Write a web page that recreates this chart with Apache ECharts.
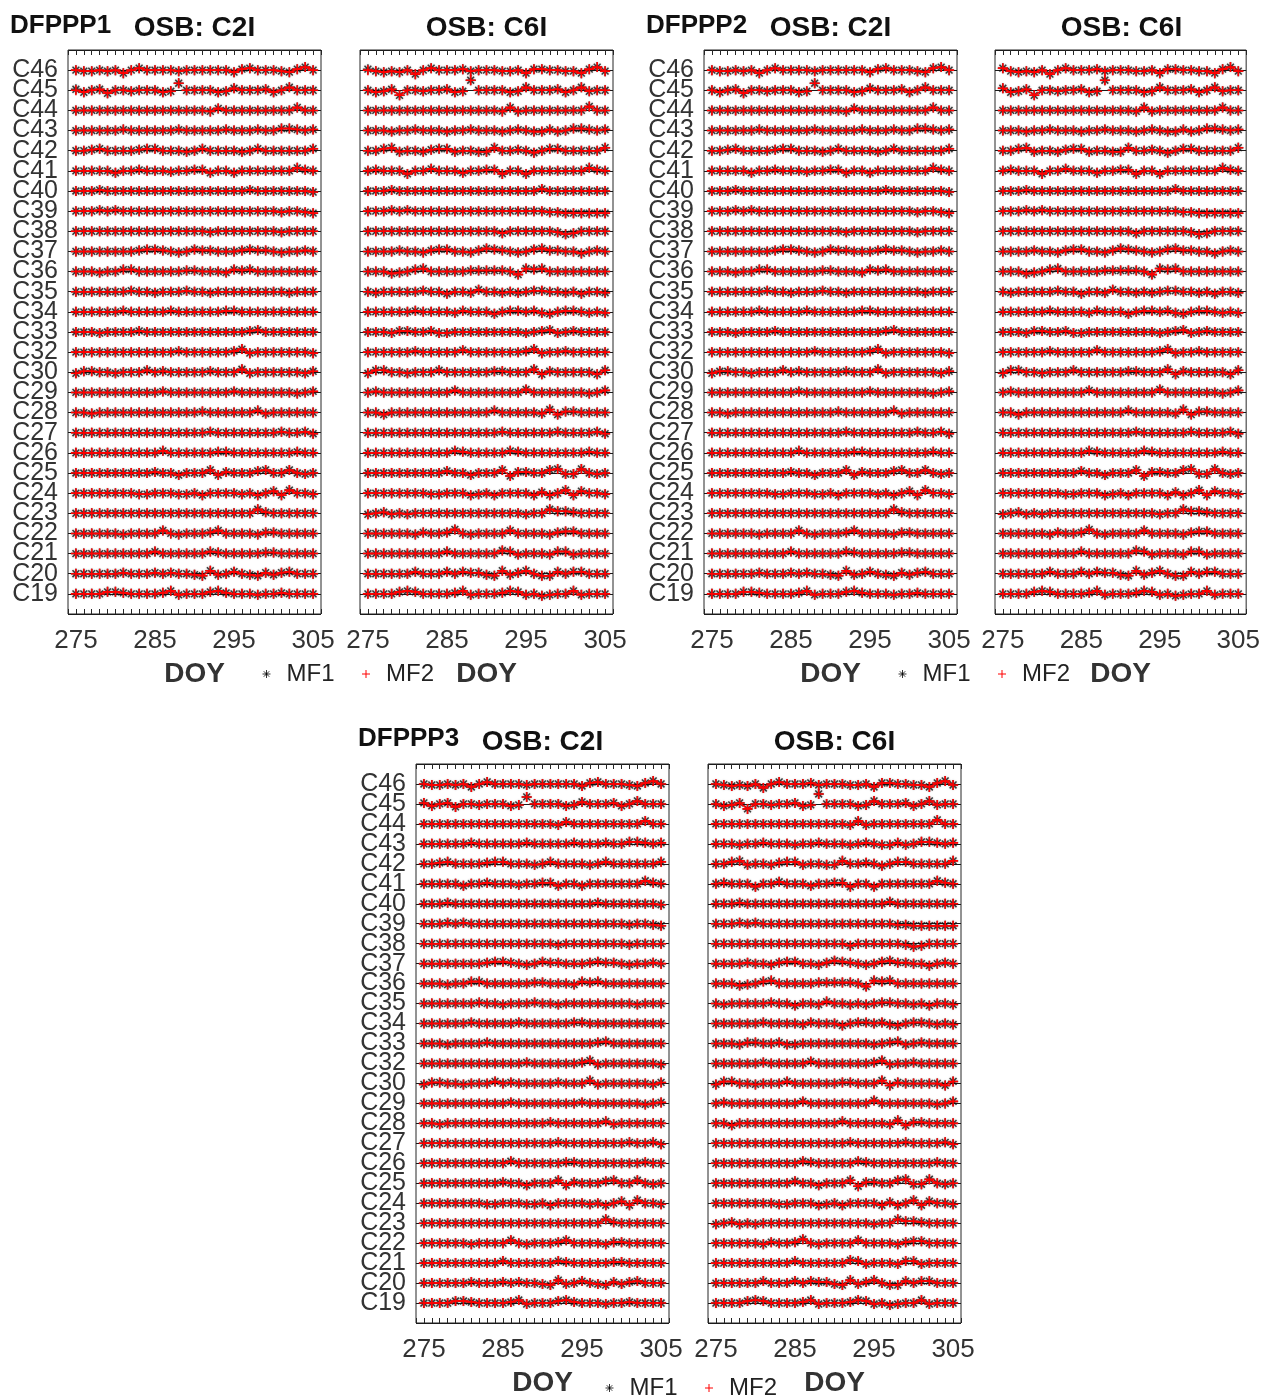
<!DOCTYPE html>
<html><head><meta charset="utf-8">
<script src="https://cdn.jsdelivr.net/npm/echarts@6/dist/echarts.min.js"></script>
<style>html,body{margin:0;padding:0;background:#fff}#chart{width:1263px;height:1398px}</style>
</head><body><div id="chart"></div>
<script>
// ---------------- DATA ----------------
// satellites, top row to bottom row
const SATS = ['C46','C45','C44','C43','C42','C41','C40','C39','C38','C37','C36','C35','C34','C33','C32',
              'C30','C29','C28','C27','C26','C25','C24','C23','C22','C21','C20','C19'];
const DOYS = [275,276,277,278,279,280,281,282,283,284,285,286,287,288,289,290,291,292,293,294,295,296,297,298,299,300,301,302,303,304,305];
const X_TICK_LABELS = [275,285,295,305];
const PRODUCTS = ['DFPPP1','DFPPP2','DFPPP3'];
const SIGNALS = ['OSB: C2I','OSB: C6I'];
const SERIES_NAMES = ['MF1','MF2'];
// value offset (in row units) read for each DOY, one character per day (275..305).
// '5' = on the row line; each step = 0.05; uppercase = point not joined by the line
const LEVEL = {'0':-0.25,'1':-0.2,'2':-0.15,'3':-0.1,'4':-0.05,'5':0,'6':0.05,'7':0.1,'8':0.15,'9':0.2,
               'a':0.25,'b':0.3,'c':0.35,'d':0.4,'e':0.45,'f':0.5};

const DFPPP1_C2I_MF2 = [
"5445452575 5554555555 3675554368 5","5356255455 534C555534 7555635855 5","5555555555 5555555475 5555555585 5",
"5555556555 5556555556 5556557765 6","5567555567 7555457555 5457555555 7","5555535565 5545566355 3555555586 5",
"5556555555 5555555555 5565555555 4","5556565555 5555555555 5555554554 3","5555555555 5555555455 5555554555 5",
"5555555567 7654576655 5676654556 5","5554557755 5555665554 7675555555 5","5555555655 4555655455 5555555455 5",
"5555556555 5565555556 6555555555 5","5554555565 5555555555 5567555555 5","5555555555 5556555555 6845555555 4",
"4665545557 5655555655 5845555554 6","5555555555 5655555555 6555555545 6","5545555555 5555556555 5557455555 5",
"5555555555 5555555655 5555556556 4","5555555555 5755555566 5555555565 5","5555555555 6553555836 5557855854 5",
"5555555544 5554453555 5453573855 4","5555555555 5555555555 5559655555 5","5555554555 5854555685 5554665555 5",
"5555555555 7555555765 5555665555 5","5555556555 6565543845 7543646755 5","5555776555 5684555786 5554556555 5"];
const DFPPP1_C2I_MF1 = [
"5445452575 5554555555 3675554368 5","6356255455 534C555534 7555635855 5","5555555555 5555555475 5555555585 5",
"5555556555 5556555556 5556557765 6","5567555567 7555457555 5457555555 7","5555535565 5545566355 3555555586 5",
"5556555555 5555555555 5565555555 4","5556565555 5555555555 5555554554 3","5555555555 5555555455 5555554555 5",
"5555555567 7654576655 5676654556 5","5554557755 5555665554 7675555555 5","5555555655 4555655455 5555555455 5",
"5555556555 5565555556 6555555555 5","5554555565 5555555555 5567555555 5","5555555555 5556555555 6845555555 4",
"4665545557 5655555655 5845555554 6","5555555555 5655555555 6555555545 6","5545555555 5555556555 5557455555 5",
"5555555555 5555555655 5555556556 4","5555555555 5755555566 5555555565 5","5555555555 6553555836 5557855854 5",
"5555555544 5554453555 5453573855 4","5555555555 5555555555 5559655555 5","5555554555 5854555685 5554665555 5",
"5555555555 7555555765 5555665555 5","5555556555 6565543845 7543646755 5","5555776555 5684555786 5554556555 5"];
const DFPPP1_C6I_MF2 = [
"5434351575 5564555445 2665544268 4","5346055455 634F555534 8555635845 5","5555555555 5555555484 5555555595 5",
"5554556555 4556555456 5446457765 6","5578455467 7455448556 5357755555 8","5655525575 5535566255 2555555586 5",
"5556555555 5555555555 5575555555 5","5556565555 5555555555 5554433333 3","5555555555 5555555355 5555423555 5",
"5555655467 7554687654 5786655356 5","5553457855 5556666652 8785555555 5","5455555655 3554755454 5665545355 4",
"5555556555 5465553566 5643566545 4","5554665564 4555555555 4567456555 5","5555556555 5575555555 6845565555 5",
"4775545557 5555556655 5836555553 7","5655555555 5755555555 8555555545 7","5535555555 5555557555 5548366555 5",
"5555555555 5555555655 5555655556 4","5555555555 5765555576 5555555565 5","5555555555 7553555826 6558944954 5",
"5555555544 5553453555 5363583755 4","4564545555 5555555555 4559776555 5","5555554655 6954555585 5554677555 5",
"5555555555 7555555874 5554774555 5","5555557555 7576643846 8533757755 5","5555787555 5684555687 4534558455 5"];
const DFPPP1_C6I_MF1 = [
"6434351575 5564555445 2665544268 4","5346055455 634F555534 8555635845 5","5555555555 5555555484 5555555595 5",
"5554556555 4556555456 5446457765 6","5578455467 7455448556 5357755555 8","5655525575 5535566255 2555555586 5",
"5556555555 5555555555 5575555555 5","5556565555 5555555555 5554433333 3","5555555555 5555555355 5555423555 5",
"5555655467 7554687654 5786655356 5","5553457855 5556666652 8785555555 5","5455555655 3554755454 5665545355 4",
"5555556555 5465553566 5643566545 4","5554665564 4555555555 4567456555 5","5555556555 5575555555 6845565555 5",
"4775545557 5555556655 5836555553 7","5655555555 5755555555 8555555545 7","5535555555 5555557555 5548366555 5",
"5555555555 5555555655 5555655556 4","5555555555 5765555576 5555555565 5","5555555555 7553555826 6558944954 5",
"5555555544 5553453555 5363583755 4","4564545555 5555555555 4559776555 5","5555554655 6954555585 5554677555 5",
"5555555555 7555555874 5554774555 5","5555557555 7576643846 8533757755 5","5555787555 5684555687 4534558455 5"];
const DFPPP2_C2I_MF2 = [
"5445452575 5554555555 3675554378 5","5356255455 534C555534 7555635855 5","5555555555 5555555475 5555555585 5",
"5555556555 5556555556 5556557765 6","5567555567 7555457555 5457555555 7","5555535565 5545566355 3555555586 5",
"5556555555 5555555555 5565555555 4","5556565555 5555555555 5555554554 3","5555555555 5555555455 5555554555 5",
"5555555567 7654576655 5676654556 5","5554557755 5555665554 7675555555 5","5555555655 4555655455 5555555455 5",
"5555556555 5565555556 6555555555 5","5554555565 5555555555 5567555555 5","5555555555 5556555555 6845555555 4",
"4665545557 5655555655 5845555554 6","5555555555 5655555555 6555555545 6","5545555555 5555556555 5557455555 5",
"5555555555 5555555655 5555556556 4","5555555555 5755555566 5555555565 5","5555555555 6553555836 5557855854 5",
"5555555544 5554453555 5453573855 4","5555555555 5555555555 5559655555 5","5555554555 5854555685 5554665555 5",
"5555555555 7555555765 5555665555 5","5555556555 6565543845 7543646755 5","5555776555 5684555786 5554556555 5"];
const DFPPP2_C2I_MF1 = [
"5445452575 5554555555 3675554378 5","5356255455 534C555534 7555635855 5","5555555555 5555555475 5555555585 5",
"5555556555 5556555556 5556557765 6","5567555567 7555457555 5457555555 7","5555535565 5545566355 3555555586 5",
"5556555555 5555555555 5565555555 4","5556565555 5555555555 5555554554 3","5555555555 5555555455 5555554555 5",
"5555555567 7654576655 5676654556 5","5554557755 5555665554 7675555555 5","5555555655 4555655455 5555555455 5",
"5555556555 5565555556 6555555555 5","5554555565 5555555555 5567555555 5","5555555555 5556555555 6845555555 4",
"4665545557 5655555655 5845555554 6","5555555555 5655555555 6555555545 6","5545555555 5555556555 5557455555 5",
"5555555555 5555555655 5555556556 4","5555555555 5755555566 5555555565 5","5555555555 6553555836 5557855854 5",
"5555555544 5554453555 5453573855 4","5555555555 5555555555 5559655555 5","5555554555 5854555685 5554665555 5",
"5555555555 7555555765 5555665555 5","5555556555 6565543845 7543646755 5","5555776555 5684555786 5554556555 5"];
const DFPPP2_C6I_MF2 = [
"7434351575 5564555445 2665544268 4","7346055455 634F555534 8555635845 5","5555555555 5555555484 5555555585 5",
"5554556555 4556555456 5446457765 6","5578455467 7455448556 5357755555 8","5655525575 5535566255 2555555586 5",
"5556555555 5555555555 5575555555 5","5556565555 5555555555 5554433333 3","5555555555 5555555355 5555423555 5",
"5555655467 7554687654 5786655356 5","5553457855 5556666652 8785555555 5","5455555655 3554755454 5665545355 4",
"5555556555 5465553566 5643566545 4","5554665564 4555555555 4567456555 5","5555556555 5575555555 6845565555 5",
"4775545557 5555556655 5836555553 7","5655555555 5755555555 8555555545 7","5535555555 5555557555 5548366555 5",
"5555555555 5555555655 5555655556 4","5555555555 5765555576 5555555565 5","5555555555 7553555826 6558944954 5",
"5555555544 5553453555 5363583755 4","4564545555 5555555555 4559776555 5","5555554655 6954555585 5554677555 5",
"5555555555 7555555874 5554774555 5","5555557555 7576643846 8533757755 5","5555787555 5684555687 4534558455 5"];
const DFPPP2_C6I_MF1 = [
"7434351575 5564555445 2665544268 4","7346055455 634F555534 8555635845 5","5555555555 5555555484 5555555585 5",
"5554556555 4556555456 5446457765 6","5578455467 7455448556 5357755555 8","5655525575 5535566255 2555555586 5",
"5556555555 5555555555 5575555555 5","5556565555 5555555555 5554433333 3","5555555555 5555555355 5555423555 5",
"5555655467 7554687654 5786655356 5","5553457855 5556666652 8785555555 5","5455555655 3554755454 5665545355 4",
"5555556555 5465553566 5643566545 4","5554665564 4555555555 4567456555 5","5555556555 5575555555 6845565555 5",
"4775545557 5555556655 5836555553 7","5655555555 5755555555 8555555545 7","5535555555 5555557555 5548366555 5",
"5555555555 5555555655 5555655556 4","5555555555 5765555576 5555555565 5","5555555555 7553555826 6558944954 5",
"5555555544 5553453555 5363583755 4","4564545555 5555555555 4559776555 5","5555554655 6954555585 5554677555 5",
"5555555555 7555555874 5554774555 5","5555557555 7576643846 8533757755 5","5555787555 5684555687 4534558455 5"];
const DFPPP3_C2I_MF2 = [
"5445452575 5554555555 3675554368 5","6356255455 534C555534 7555635855 5","5555555555 5555555475 5555555585 5",
"5555556555 5556555556 5556557765 6","5567555567 7555457555 5457555555 7","5555535565 5545566355 3555555586 5",
"5556555555 5555555555 5565555555 4","5556565555 5555555555 5555554554 3","5555555555 5555555455 5555554555 5",
"5555555567 7654576655 5676654556 5","5554557755 5555665554 7675555555 5","5555555655 4555655455 5555555455 5",
"5555556555 5565555556 6555555555 5","5554555565 5555555555 5567555555 5","5555555555 5556555555 6845555555 4",
"4665545557 5655555655 5845555554 6","5555555555 5655555555 6555555545 6","5545555555 5555556555 5557455555 5",
"5555555555 5555555655 5555556556 4","5555555555 5755555566 5555555565 5","5555555555 6553555836 5557855854 5",
"5555555544 5554453555 5453573855 4","5555555555 5555555555 5559655555 5","5555554555 5854555685 5554665555 5",
"5555555555 7555555765 5555665555 5","5555556555 6565543845 7543646755 5","5555776555 5684555786 5554556555 5"];
const DFPPP3_C2I_MF1 = [
"5445452575 5554555555 3675554368 5","6356255455 534C555534 7555635855 5","5555555555 5555555475 5555555585 5",
"5555556555 5556555556 5556557765 6","5567555567 7555457555 5457555555 7","5555535565 5545566355 3555555586 5",
"5556555555 5555555555 5565555555 4","5556565555 5555555555 5555554554 3","5555555555 5555555455 5555554555 5",
"5555555567 7654576655 5676654556 5","5554557755 5555665554 7675555555 5","5555555655 4555655455 5555555455 5",
"5555556555 5565555556 6555555555 5","5554555565 5555555555 5567555555 5","5555555555 5556555555 6845555555 4",
"4665545557 5655555655 5845555554 6","5555555555 5655555555 6555555545 6","5545555555 5555556555 5557455555 5",
"5555555555 5555555655 5555556556 4","5555555555 5755555566 5555555565 5","5555555555 6553555836 5557855854 5",
"5555555544 5554453555 5453573855 4","5555555555 5555555555 5559655555 5","5555554555 5854555685 5554665555 5",
"5555555555 7555555765 5555665555 5","5555556555 6565543845 7543646755 5","5555776555 5684555786 5554556555 5"];
const DFPPP3_C6I_MF2 = [
"5434351575 5564555445 2665544268 4","5346055455 634F555534 8555635845 5","5555555555 5555555484 5555555595 5",
"5554556555 4556555456 5446457765 6","5578455467 7455448556 5357755555 8","5655525575 5535566255 2555555586 5",
"5556555555 5555555555 5575555555 5","5556565555 5555555555 5554433333 3","5555555555 5555555355 5555423555 5",
"5555655467 7554687654 5786655356 5","5553457855 5556666652 8785555555 5","5455555655 3554755454 5665545355 4",
"5555556555 5465553566 5643566545 4","5554665564 4555555555 4567456555 5","5555556555 5575555555 6845565555 5",
"4775545557 5555556655 5836555553 7","5655555555 5755555555 8555555545 7","5535555555 5555557555 5548366555 5",
"5555555555 5555555655 5555655556 4","5555555555 5765555576 5555555565 5","5555555555 7553555826 6558944954 5",
"5555555544 5553453555 5363583755 4","4564545555 5555555555 4559776555 5","5555554655 6954555585 5554677555 5",
"5555555555 7555555874 5554774555 5","5555557555 7576643846 8533757755 5","5555787555 5684555687 4534558455 5"];
const DFPPP3_C6I_MF1 = [
"5434351575 5564555445 2665544268 4","5346055455 634F555534 8555635845 5","5555555555 5555555484 5555555595 5",
"5554556555 4556555456 5446457765 6","5578455467 7455448556 5357755555 8","5655525575 5535566255 2555555586 5",
"5556555555 5555555555 5575555555 5","5556565555 5555555555 5554433333 3","5555555555 5555555355 5555423555 5",
"5555655467 7554687654 5786655356 5","5553457855 5556666652 8785555555 5","5455555655 3554755454 5665545355 4",
"5555556555 5465553566 5643566545 4","5554665564 4555555555 4567456555 5","5555556555 5575555555 6845565555 5",
"4775545557 5555556655 5836555553 7","5655555555 5755555555 8555555545 7","5535555555 5555557555 5548366555 5",
"5555555555 5555555655 5555655556 4","5555555555 5765555576 5555555565 5","5555555555 7553555826 6558944954 5",
"5555555544 5553453555 5363583755 4","4564545555 5555555555 4559776555 5","5555554655 6954555585 5554677555 5",
"5555555555 7555555874 5554774555 5","5555557555 7576643846 8533757755 5","5555787555 5684555687 4534558455 5"];

// ---------------- LAYOUT / STYLE ----------------
const FONT = 'Liberation Sans, Arial, Helvetica, sans-serif';
const STAR = 'path://M0 5L10 5M5 0L5 10M1.6 1.6L8.4 8.4M1.6 8.4L8.4 1.6';
const PLUS = 'path://M0 5L10 5M5 0L5 10';
const GW = 253;
const PANELS = [
  {prod:0, sig:0, left:68,  top:50,  h:564, mf1:DFPPP1_C2I_MF1, mf2:DFPPP1_C2I_MF2},
  {prod:0, sig:1, left:360, top:50,  h:564, mf1:DFPPP1_C6I_MF1, mf2:DFPPP1_C6I_MF2},
  {prod:1, sig:0, left:704, top:50,  h:564, mf1:DFPPP2_C2I_MF1, mf2:DFPPP2_C2I_MF2},
  {prod:1, sig:1, left:995, top:50,  h:564, mf1:DFPPP2_C6I_MF1, mf2:DFPPP2_C6I_MF2},
  {prod:2, sig:0, left:416, top:764, h:566, mf1:DFPPP3_C2I_MF1, mf2:DFPPP3_C2I_MF2},
  {prod:2, sig:1, left:708, top:764, h:566, mf1:DFPPP3_C6I_MF1, mf2:DFPPP3_C6I_MF2}
];
const PROD_LABEL_POS = [{x:10,y:26},{x:646,y:26},{x:358,y:739}];
const LEGEND_POS = [{left:255,top:657},{left:891,top:657},{left:598,top:1371}];

const clean = s => s.replace(/\s+/g,'');
const grid=[], xAxis=[], yAxis=[], series=[], graphic=[], legend=[];

PANELS.forEach((p,k)=>{
  grid.push({left:p.left, top:p.top, width:GW, height:p.h, show:true, borderColor:'#262626', borderWidth:1, backgroundColor:'transparent'});
  xAxis.push({gridIndex:k, type:'value', min:274, max:306, interval:1, position:'bottom',
    axisLine:{show:false}, splitLine:{show:false},
    axisTick:{show:true, inside:true, length:5, lineStyle:{color:'#262626', width:1}},
    axisLabel:{fontSize:26, color:'#333', margin:14, fontFamily:FONT, showMinLabel:true, showMaxLabel:true,
      formatter: v => X_TICK_LABELS.indexOf(v) >= 0 ? String(v) : ''},
    name:'DOY', nameLocation:'middle', nameGap:46,
    nameTextStyle:{fontSize:28, fontWeight:'bold', color:'#333', fontFamily:FONT}});
  xAxis.push({gridIndex:k, type:'value', min:274, max:306, interval:1, position:'top',
    axisLine:{show:false}, splitLine:{show:false}, axisLabel:{show:false},
    axisTick:{show:true, inside:true, length:5, lineStyle:{color:'#262626', width:1}}});
  yAxis.push({gridIndex:k, type:'value', min:0, max:28, interval:1,
    axisLine:{show:false}, axisTick:{show:false},
    splitLine:{show:true, lineStyle:{color:'#1a1a1a', width:1}},
    axisLabel:{show:p.sig===0, fontSize:25, color:'#333', margin:10, fontFamily:FONT, showMinLabel:true, showMaxLabel:true,
      formatter: v => (v>=1 && v<=27) ? SATS[27-v] : ''}});

  // MF1 : black asterisks
  const d1 = [];
  p.mf1.forEach((row,r)=>{
    const s = clean(row), base = 27 - r;
    for (let j=0;j<DOYS.length;j++){ const c=s[j]; if (c==='x') continue; d1.push([DOYS[j], base + LEVEL[c.toLowerCase()]]); }
  });
  series.push({type:'scatter', name:SERIES_NAMES[0], xAxisIndex:2*k, yAxisIndex:k, data:d1,
    symbol:STAR, symbolSize:10, itemStyle:{color:'none', borderColor:'#111', borderWidth:1.5,
      shadowBlur:2, shadowColor:'rgba(0,0,0,0.35)'},
    silent:true, animation:false, z:2});
  // MF2 : red plus joined by red line, one line per satellite
  p.mf2.forEach((row,r)=>{
    const s = clean(row), base = 27 - r;
    const d = [], iso = [];
    for (let j=0;j<DOYS.length;j++){
      const c = s[j];
      if (c==='x') { d.push([DOYS[j],'-']); continue; }
      const v = base + LEVEL[c.toLowerCase()];
      if (c !== c.toLowerCase()) { d.push([DOYS[j],'-']); iso.push([DOYS[j], v]); }
      else d.push([DOYS[j], v]);
    }
    iso.forEach(q=>{ d.push([q[0],'-']); d.push(q); });
    series.push({type:'line', name:SERIES_NAMES[1], xAxisIndex:2*k, yAxisIndex:k, data:d,
      symbol:PLUS, symbolSize:10, showSymbol:true, connectNulls:false,
      itemStyle:{color:'none', borderColor:'#ff0000', borderWidth:1.6},
      lineStyle:{color:'#ff0000', width:1.5},
      silent:true, animation:false, z:3});
  });

  // panel title
  graphic.push({type:'text', x:p.left + GW/2, y:p.top - 22,
    style:{text:SIGNALS[p.sig], fontSize:28, fontWeight:'bold', fontFamily:FONT, fill:'#111',
      align:'center', verticalAlign:'middle', textAlign:'center', textVerticalAlign:'middle'}});
});

PRODUCTS.forEach((name,i)=>{
  graphic.push({type:'text', x:PROD_LABEL_POS[i].x, y:PROD_LABEL_POS[i].y,
    style:{text:name, fontSize:26, fontWeight:'bold', fontFamily:FONT, fill:'#111',
      align:'left', verticalAlign:'middle', textAlign:'left', textVerticalAlign:'middle'}});
  legend.push({left:LEGEND_POS[i].left, top:LEGEND_POS[i].top, orient:'horizontal',
    itemWidth:30, itemHeight:8, itemGap:25, selectedMode:false,
    textStyle:{fontSize:24, color:'#222', fontFamily:FONT},
    data:[
      {name:SERIES_NAMES[0], icon:STAR, itemStyle:{color:'none', borderColor:'#000', borderWidth:1}},
      {name:SERIES_NAMES[1], icon:PLUS, itemStyle:{color:'none', borderColor:'#ff0000', borderWidth:1}}
    ]});
});

const chart = echarts.init(document.getElementById('chart'), null, {renderer:'canvas'});
chart.setOption({
  animation:false,
  backgroundColor:'#fff',
  textStyle:{fontFamily:FONT},
  grid, xAxis, yAxis, series, graphic, legend
});
</script>
</body></html>
